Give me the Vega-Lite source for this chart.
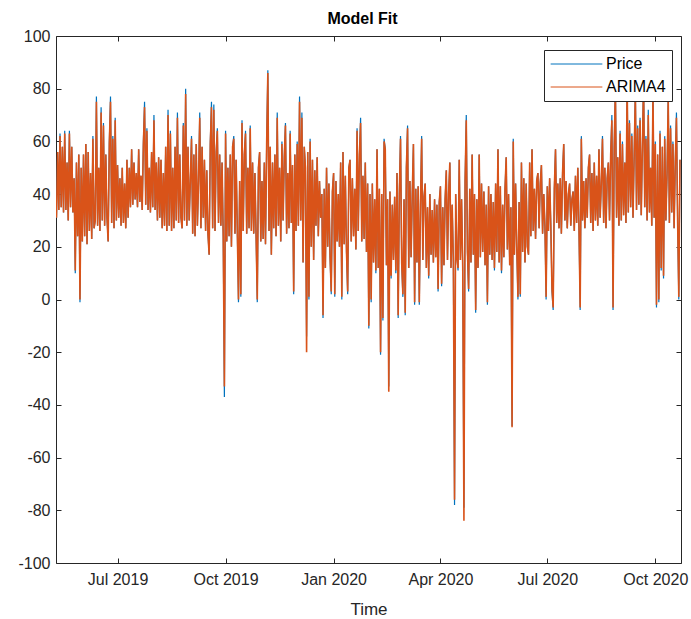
{
  "$schema": "https://vega.github.io/schema/vega-lite/v6.json",
  "width": 625,
  "height": 527,
  "autosize": {"type": "none"},
  "padding": {"left": 56, "top": 36, "right": 10, "bottom": 56},
  "background": "white",
  "title": {"text": "Model Fit", "font": "Liberation Sans", "fontSize": 16, "fontWeight": "bold", "color": "#000000", "offset": 1, "dx": -6},
  "data": {
    "format": {"parse": {"t": "date:'%Y-%m-%d'"}},
    "values": [
{"t":"2019-05-10","p":31,"a":31},{"t":"2019-05-11","p":56,"a":56},{"t":"2019-05-12","p":34,"a":34},{"t":"2019-05-13","p":63,"a":62},{"t":"2019-05-14","p":35,"a":35},{"t":"2019-05-15","p":58,"a":58},{"t":"2019-05-16","p":33,"a":33},{"t":"2019-05-17","p":64,"a":63},{"t":"2019-05-18","p":34,"a":34},{"t":"2019-05-19","p":52,"a":52},{"t":"2019-05-20","p":30,"a":30},{"t":"2019-05-21","p":64,"a":63},{"t":"2019-05-22","p":35,"a":35},{"t":"2019-05-23","p":58,"a":58},{"t":"2019-05-24","p":33,"a":33},{"t":"2019-05-25","p":46,"a":46},{"t":"2019-05-26","p":10,"a":11},{"t":"2019-05-27","p":52,"a":52},{"t":"2019-05-28","p":24,"a":24},{"t":"2019-05-29","p":55,"a":55},{"t":"2019-05-30","p":-1,"a":0},{"t":"2019-05-31","p":50,"a":50},
{"t":"2019-06-01","p":22,"a":22},{"t":"2019-06-02","p":55,"a":55},{"t":"2019-06-03","p":24,"a":24},{"t":"2019-06-04","p":59,"a":59},{"t":"2019-06-05","p":21,"a":21},{"t":"2019-06-06","p":56,"a":56},{"t":"2019-06-07","p":26,"a":26},{"t":"2019-06-08","p":48,"a":48},{"t":"2019-06-09","p":23,"a":23},{"t":"2019-06-10","p":62,"a":61},{"t":"2019-06-11","p":27,"a":27},{"t":"2019-06-12","p":30,"a":30},{"t":"2019-06-13","p":77,"a":75},{"t":"2019-06-14","p":28,"a":28},{"t":"2019-06-15","p":50,"a":50},{"t":"2019-06-16","p":26,"a":26},{"t":"2019-06-17","p":73,"a":71},{"t":"2019-06-18","p":30,"a":30},{"t":"2019-06-19","p":67,"a":66},{"t":"2019-06-20","p":28,"a":28},{"t":"2019-06-21","p":55,"a":55},{"t":"2019-06-22","p":31,"a":31},{"t":"2019-06-23","p":22,"a":22},{"t":"2019-06-24","p":60,"a":59},{"t":"2019-06-25","p":77,"a":75},{"t":"2019-06-26","p":29,"a":29},{"t":"2019-06-27","p":62,"a":61},{"t":"2019-06-28","p":27,"a":27},{"t":"2019-06-29","p":69,"a":68},{"t":"2019-06-30","p":30,"a":30},
{"t":"2019-07-01","p":51,"a":51},{"t":"2019-07-02","p":31,"a":31},{"t":"2019-07-03","p":46,"a":46},{"t":"2019-07-04","p":28,"a":28},{"t":"2019-07-05","p":50,"a":50},{"t":"2019-07-06","p":29,"a":29},{"t":"2019-07-07","p":44,"a":44},{"t":"2019-07-08","p":27,"a":27},{"t":"2019-07-09","p":53,"a":53},{"t":"2019-07-10","p":31,"a":31},{"t":"2019-07-11","p":50,"a":50},{"t":"2019-07-12","p":35,"a":35},{"t":"2019-07-13","p":57,"a":57},{"t":"2019-07-14","p":36,"a":36},{"t":"2019-07-15","p":52,"a":52},{"t":"2019-07-16","p":38,"a":38},{"t":"2019-07-17","p":48,"a":48},{"t":"2019-07-18","p":35,"a":35},{"t":"2019-07-19","p":57,"a":57},{"t":"2019-07-20","p":37,"a":37},{"t":"2019-07-21","p":47,"a":47},{"t":"2019-07-22","p":34,"a":34},{"t":"2019-07-23","p":60,"a":59},{"t":"2019-07-24","p":75,"a":73},{"t":"2019-07-25","p":36,"a":36},{"t":"2019-07-26","p":65,"a":64},{"t":"2019-07-27","p":34,"a":34},{"t":"2019-07-28","p":50,"a":50},{"t":"2019-07-29","p":33,"a":33},{"t":"2019-07-30","p":56,"a":56},{"t":"2019-07-31","p":35,"a":35},
{"t":"2019-08-01","p":70,"a":68},{"t":"2019-08-02","p":34,"a":34},{"t":"2019-08-03","p":52,"a":52},{"t":"2019-08-04","p":30,"a":30},{"t":"2019-08-05","p":54,"a":54},{"t":"2019-08-06","p":31,"a":31},{"t":"2019-08-07","p":53,"a":53},{"t":"2019-08-08","p":27,"a":27},{"t":"2019-08-09","p":48,"a":48},{"t":"2019-08-10","p":28,"a":28},{"t":"2019-08-11","p":58,"a":58},{"t":"2019-08-12","p":26,"a":26},{"t":"2019-08-13","p":72,"a":70},{"t":"2019-08-14","p":28,"a":28},{"t":"2019-08-15","p":64,"a":63},{"t":"2019-08-16","p":26,"a":26},{"t":"2019-08-17","p":50,"a":50},{"t":"2019-08-18","p":27,"a":27},{"t":"2019-08-19","p":58,"a":58},{"t":"2019-08-20","p":30,"a":30},{"t":"2019-08-21","p":71,"a":69},{"t":"2019-08-22","p":29,"a":29},{"t":"2019-08-23","p":55,"a":55},{"t":"2019-08-24","p":31,"a":31},{"t":"2019-08-25","p":27,"a":27},{"t":"2019-08-26","p":67,"a":66},{"t":"2019-08-27","p":30,"a":30},{"t":"2019-08-28","p":80,"a":78},{"t":"2019-08-29","p":28,"a":28},{"t":"2019-08-30","p":58,"a":58},{"t":"2019-08-31","p":30,"a":30},
{"t":"2019-09-01","p":45,"a":45},{"t":"2019-09-02","p":62,"a":61},{"t":"2019-09-03","p":25,"a":25},{"t":"2019-09-04","p":55,"a":55},{"t":"2019-09-05","p":24,"a":24},{"t":"2019-09-06","p":59,"a":59},{"t":"2019-09-07","p":28,"a":28},{"t":"2019-09-08","p":45,"a":45},{"t":"2019-09-09","p":71,"a":69},{"t":"2019-09-10","p":27,"a":27},{"t":"2019-09-11","p":58,"a":58},{"t":"2019-09-12","p":31,"a":31},{"t":"2019-09-13","p":53,"a":53},{"t":"2019-09-14","p":26,"a":26},{"t":"2019-09-15","p":49,"a":49},{"t":"2019-09-16","p":25,"a":25},{"t":"2019-09-17","p":17,"a":17},{"t":"2019-09-18","p":60,"a":59},{"t":"2019-09-19","p":75,"a":73},{"t":"2019-09-20","p":27,"a":27},{"t":"2019-09-21","p":74,"a":72},{"t":"2019-09-22","p":26,"a":26},{"t":"2019-09-23","p":56,"a":56},{"t":"2019-09-24","p":65,"a":64},{"t":"2019-09-25","p":29,"a":29},{"t":"2019-09-26","p":55,"a":55},{"t":"2019-09-27","p":28,"a":28},{"t":"2019-09-28","p":52,"a":52},{"t":"2019-09-29","p":24,"a":24},{"t":"2019-09-30","p":-37,"a":-33},
{"t":"2019-10-01","p":64,"a":63},{"t":"2019-10-02","p":22,"a":22},{"t":"2019-10-03","p":50,"a":50},{"t":"2019-10-04","p":24,"a":24},{"t":"2019-10-05","p":55,"a":55},{"t":"2019-10-06","p":20,"a":20},{"t":"2019-10-07","p":58,"a":58},{"t":"2019-10-08","p":62,"a":61},{"t":"2019-10-09","p":25,"a":25},{"t":"2019-10-10","p":53,"a":53},{"t":"2019-10-11","p":26,"a":26},{"t":"2019-10-12","p":-1,"a":0},{"t":"2019-10-13","p":45,"a":45},{"t":"2019-10-14","p":1,"a":2},{"t":"2019-10-15","p":68,"a":67},{"t":"2019-10-16","p":26,"a":26},{"t":"2019-10-17","p":55,"a":55},{"t":"2019-10-18","p":64,"a":63},{"t":"2019-10-19","p":25,"a":25},{"t":"2019-10-20","p":50,"a":50},{"t":"2019-10-21","p":27,"a":27},{"t":"2019-10-22","p":66,"a":65},{"t":"2019-10-23","p":26,"a":26},{"t":"2019-10-24","p":52,"a":52},{"t":"2019-10-25","p":25,"a":25},{"t":"2019-10-26","p":48,"a":48},{"t":"2019-10-27","p":24,"a":24},{"t":"2019-10-28","p":-1,"a":0},{"t":"2019-10-29","p":50,"a":50},{"t":"2019-10-30","p":56,"a":56},{"t":"2019-10-31","p":22,"a":22},
{"t":"2019-11-01","p":45,"a":45},{"t":"2019-11-02","p":23,"a":23},{"t":"2019-11-03","p":52,"a":52},{"t":"2019-11-04","p":21,"a":21},{"t":"2019-11-05","p":60,"a":59},{"t":"2019-11-06","p":87,"a":86},{"t":"2019-11-07","p":26,"a":26},{"t":"2019-11-08","p":58,"a":58},{"t":"2019-11-09","p":17,"a":17},{"t":"2019-11-10","p":52,"a":52},{"t":"2019-11-11","p":27,"a":27},{"t":"2019-11-12","p":55,"a":55},{"t":"2019-11-13","p":24,"a":24},{"t":"2019-11-14","p":71,"a":69},{"t":"2019-11-15","p":28,"a":28},{"t":"2019-11-16","p":50,"a":50},{"t":"2019-11-17","p":22,"a":22},{"t":"2019-11-18","p":60,"a":59},{"t":"2019-11-19","p":30,"a":30},{"t":"2019-11-20","p":54,"a":54},{"t":"2019-11-21","p":67,"a":66},{"t":"2019-11-22","p":25,"a":25},{"t":"2019-11-23","p":48,"a":48},{"t":"2019-11-24","p":27,"a":27},{"t":"2019-11-25","p":64,"a":63},{"t":"2019-11-26","p":29,"a":29},{"t":"2019-11-27","p":51,"a":51},{"t":"2019-11-28","p":2,"a":3},{"t":"2019-11-29","p":55,"a":55},{"t":"2019-11-30","p":26,"a":26},
{"t":"2019-12-01","p":60,"a":59},{"t":"2019-12-02","p":28,"a":28},{"t":"2019-12-03","p":77,"a":75},{"t":"2019-12-04","p":30,"a":30},{"t":"2019-12-05","p":71,"a":69},{"t":"2019-12-06","p":14,"a":14},{"t":"2019-12-07","p":58,"a":58},{"t":"2019-12-08","p":50,"a":50},{"t":"2019-12-09","p":-14,"a":-20},{"t":"2019-12-10","p":56,"a":56},{"t":"2019-12-11","p":0,"a":1},{"t":"2019-12-12","p":61,"a":60},{"t":"2019-12-13","p":20,"a":20},{"t":"2019-12-14","p":53,"a":53},{"t":"2019-12-15","p":15,"a":15},{"t":"2019-12-16","p":49,"a":49},{"t":"2019-12-17","p":28,"a":28},{"t":"2019-12-18","p":54,"a":54},{"t":"2019-12-19","p":24,"a":24},{"t":"2019-12-20","p":45,"a":45},{"t":"2019-12-21","p":31,"a":31},{"t":"2019-12-22","p":40,"a":40},{"t":"2019-12-23","p":-7,"a":-6},{"t":"2019-12-24","p":42,"a":42},{"t":"2019-12-25","p":12,"a":12},{"t":"2019-12-26","p":50,"a":50},{"t":"2019-12-27","p":20,"a":20},{"t":"2019-12-28","p":44,"a":44},{"t":"2019-12-29","p":16,"a":16},{"t":"2019-12-30","p":2,"a":3},{"t":"2019-12-31","p":41,"a":41},
{"t":"2020-01-01","p":48,"a":48},{"t":"2020-01-02","p":1,"a":2},{"t":"2020-01-03","p":45,"a":45},{"t":"2020-01-04","p":22,"a":22},{"t":"2020-01-05","p":40,"a":40},{"t":"2020-01-06","p":20,"a":20},{"t":"2020-01-07","p":52,"a":52},{"t":"2020-01-08","p":0,"a":1},{"t":"2020-01-09","p":56,"a":56},{"t":"2020-01-10","p":21,"a":21},{"t":"2020-01-11","p":47,"a":47},{"t":"2020-01-12","p":18,"a":18},{"t":"2020-01-13","p":2,"a":3},{"t":"2020-01-14","p":50,"a":50},{"t":"2020-01-15","p":53,"a":53},{"t":"2020-01-16","p":22,"a":22},{"t":"2020-01-17","p":46,"a":46},{"t":"2020-01-18","p":24,"a":24},{"t":"2020-01-19","p":42,"a":42},{"t":"2020-01-20","p":19,"a":19},{"t":"2020-01-21","p":65,"a":64},{"t":"2020-01-22","p":26,"a":26},{"t":"2020-01-23","p":55,"a":55},{"t":"2020-01-24","p":69,"a":67},{"t":"2020-01-25","p":22,"a":22},{"t":"2020-01-26","p":47,"a":47},{"t":"2020-01-27","p":23,"a":23},{"t":"2020-01-28","p":52,"a":52},{"t":"2020-01-29","p":18,"a":18},{"t":"2020-01-30","p":44,"a":44},{"t":"2020-01-31","p":-11,"a":-10},
{"t":"2020-02-01","p":40,"a":40},{"t":"2020-02-02","p":-1,"a":0},{"t":"2020-02-03","p":44,"a":44},{"t":"2020-02-04","p":14,"a":14},{"t":"2020-02-05","p":38,"a":38},{"t":"2020-02-06","p":10,"a":11},{"t":"2020-02-07","p":57,"a":57},{"t":"2020-02-08","p":12,"a":12},{"t":"2020-02-09","p":42,"a":42},{"t":"2020-02-10","p":-21,"a":-20},{"t":"2020-02-11","p":40,"a":40},{"t":"2020-02-12","p":-8,"a":-7},{"t":"2020-02-13","p":61,"a":60},{"t":"2020-02-14","p":57,"a":57},{"t":"2020-02-15","p":13,"a":13},{"t":"2020-02-16","p":38,"a":38},{"t":"2020-02-17","p":-33,"a":-35},{"t":"2020-02-18","p":41,"a":41},{"t":"2020-02-19","p":8,"a":9},{"t":"2020-02-20","p":36,"a":36},{"t":"2020-02-21","p":15,"a":15},{"t":"2020-02-22","p":39,"a":39},{"t":"2020-02-23","p":10,"a":11},{"t":"2020-02-24","p":48,"a":48},{"t":"2020-02-25","p":-7,"a":-6},{"t":"2020-02-26","p":40,"a":40},{"t":"2020-02-27","p":62,"a":61},{"t":"2020-02-28","p":14,"a":14},{"t":"2020-02-29","p":1,"a":2},
{"t":"2020-03-01","p":38,"a":38},{"t":"2020-03-02","p":-6,"a":-5},{"t":"2020-03-03","p":50,"a":50},{"t":"2020-03-04","p":66,"a":65},{"t":"2020-03-05","p":12,"a":12},{"t":"2020-03-06","p":45,"a":45},{"t":"2020-03-07","p":16,"a":16},{"t":"2020-03-08","p":40,"a":40},{"t":"2020-03-09","p":59,"a":59},{"t":"2020-03-10","p":-2,"a":-1},{"t":"2020-03-11","p":42,"a":42},{"t":"2020-03-12","p":14,"a":14},{"t":"2020-03-13","p":43,"a":43},{"t":"2020-03-14","p":-2,"a":-1},{"t":"2020-03-15","p":36,"a":36},{"t":"2020-03-16","p":62,"a":61},{"t":"2020-03-17","p":15,"a":15},{"t":"2020-03-18","p":39,"a":39},{"t":"2020-03-19","p":44,"a":44},{"t":"2020-03-20","p":12,"a":12},{"t":"2020-03-21","p":35,"a":35},{"t":"2020-03-22","p":8,"a":9},{"t":"2020-03-23","p":40,"a":40},{"t":"2020-03-24","p":17,"a":17},{"t":"2020-03-25","p":34,"a":34},{"t":"2020-03-26","p":14,"a":14},{"t":"2020-03-27","p":38,"a":38},{"t":"2020-03-28","p":16,"a":16},{"t":"2020-03-29","p":36,"a":36},{"t":"2020-03-30","p":3,"a":4},{"t":"2020-03-31","p":37,"a":37},
{"t":"2020-04-01","p":43,"a":43},{"t":"2020-04-02","p":5,"a":6},{"t":"2020-04-03","p":35,"a":35},{"t":"2020-04-04","p":13,"a":13},{"t":"2020-04-05","p":38,"a":38},{"t":"2020-04-06","p":49,"a":49},{"t":"2020-04-07","p":15,"a":15},{"t":"2020-04-08","p":40,"a":40},{"t":"2020-04-09","p":52,"a":52},{"t":"2020-04-10","p":12,"a":12},{"t":"2020-04-11","p":36,"a":36},{"t":"2020-04-12","p":14,"a":14},{"t":"2020-04-13","p":-78,"a":-76},{"t":"2020-04-14","p":40,"a":40},{"t":"2020-04-15","p":16,"a":16},{"t":"2020-04-16","p":11,"a":12},{"t":"2020-04-17","p":53,"a":53},{"t":"2020-04-18","p":15,"a":15},{"t":"2020-04-19","p":38,"a":38},{"t":"2020-04-20","p":12,"a":12},{"t":"2020-04-21","p":-79,"a":-84},{"t":"2020-04-22","p":45,"a":45},{"t":"2020-04-23","p":70,"a":68},{"t":"2020-04-24","p":18,"a":18},{"t":"2020-04-25","p":3,"a":4},{"t":"2020-04-26","p":42,"a":42},{"t":"2020-04-27","p":14,"a":14},{"t":"2020-04-28","p":55,"a":55},{"t":"2020-04-29","p":17,"a":17},{"t":"2020-04-30","p":40,"a":40},
{"t":"2020-05-01","p":-5,"a":-4},{"t":"2020-05-02","p":38,"a":38},{"t":"2020-05-03","p":12,"a":12},{"t":"2020-05-04","p":55,"a":55},{"t":"2020-05-05","p":16,"a":16},{"t":"2020-05-06","p":44,"a":44},{"t":"2020-05-07","p":18,"a":18},{"t":"2020-05-08","p":41,"a":41},{"t":"2020-05-09","p":13,"a":13},{"t":"2020-05-10","p":36,"a":36},{"t":"2020-05-11","p":-2,"a":-1},{"t":"2020-05-12","p":43,"a":43},{"t":"2020-05-13","p":17,"a":17},{"t":"2020-05-14","p":40,"a":40},{"t":"2020-05-15","p":15,"a":15},{"t":"2020-05-16","p":37,"a":37},{"t":"2020-05-17","p":11,"a":12},{"t":"2020-05-18","p":44,"a":44},{"t":"2020-05-19","p":18,"a":18},{"t":"2020-05-20","p":57,"a":57},{"t":"2020-05-21","p":14,"a":14},{"t":"2020-05-22","p":43,"a":43},{"t":"2020-05-23","p":10,"a":11},{"t":"2020-05-24","p":36,"a":36},{"t":"2020-05-25","p":16,"a":16},{"t":"2020-05-26","p":42,"a":42},{"t":"2020-05-27","p":54,"a":54},{"t":"2020-05-28","p":19,"a":19},{"t":"2020-05-29","p":40,"a":40},{"t":"2020-05-30","p":13,"a":13},{"t":"2020-05-31","p":35,"a":35},
{"t":"2020-06-01","p":-48,"a":-48.5},{"t":"2020-06-02","p":61,"a":60},{"t":"2020-06-03","p":17,"a":17},{"t":"2020-06-04","p":44,"a":44},{"t":"2020-06-05","p":20,"a":20},{"t":"2020-06-06","p":0,"a":1},{"t":"2020-06-07","p":37,"a":37},{"t":"2020-06-08","p":1,"a":2},{"t":"2020-06-09","p":52,"a":52},{"t":"2020-06-10","p":18,"a":18},{"t":"2020-06-11","p":46,"a":46},{"t":"2020-06-12","p":14,"a":14},{"t":"2020-06-13","p":44,"a":44},{"t":"2020-06-14","p":20,"a":20},{"t":"2020-06-15","p":17,"a":17},{"t":"2020-06-16","p":52,"a":52},{"t":"2020-06-17","p":24,"a":24},{"t":"2020-06-18","p":57,"a":57},{"t":"2020-06-19","p":26,"a":26},{"t":"2020-06-20","p":42,"a":42},{"t":"2020-06-21","p":23,"a":23},{"t":"2020-06-22","p":45,"a":45},{"t":"2020-06-23","p":48,"a":48},{"t":"2020-06-24","p":27,"a":27},{"t":"2020-06-25","p":44,"a":44},{"t":"2020-06-26","p":51,"a":51},{"t":"2020-06-27","p":25,"a":25},{"t":"2020-06-28","p":40,"a":40},{"t":"2020-06-29","p":28,"a":28},{"t":"2020-06-30","p":0,"a":1},
{"t":"2020-07-01","p":43,"a":43},{"t":"2020-07-02","p":26,"a":26},{"t":"2020-07-03","p":46,"a":46},{"t":"2020-07-04","p":28,"a":28},{"t":"2020-07-05","p":3,"a":4},{"t":"2020-07-06","p":-4,"a":-3},{"t":"2020-07-07","p":42,"a":42},{"t":"2020-07-08","p":57,"a":57},{"t":"2020-07-09","p":29,"a":29},{"t":"2020-07-10","p":44,"a":44},{"t":"2020-07-11","p":27,"a":27},{"t":"2020-07-12","p":46,"a":46},{"t":"2020-07-13","p":25,"a":25},{"t":"2020-07-14","p":48,"a":48},{"t":"2020-07-15","p":59,"a":59},{"t":"2020-07-16","p":30,"a":30},{"t":"2020-07-17","p":45,"a":45},{"t":"2020-07-18","p":27,"a":27},{"t":"2020-07-19","p":40,"a":40},{"t":"2020-07-20","p":44,"a":44},{"t":"2020-07-21","p":28,"a":28},{"t":"2020-07-22","p":38,"a":38},{"t":"2020-07-23","p":41,"a":41},{"t":"2020-07-24","p":26,"a":26},{"t":"2020-07-25","p":47,"a":47},{"t":"2020-07-26","p":29,"a":29},{"t":"2020-07-27","p":50,"a":50},{"t":"2020-07-28","p":27,"a":27},{"t":"2020-07-29","p":-4,"a":-3},{"t":"2020-07-30","p":62,"a":61},{"t":"2020-07-31","p":30,"a":30},
{"t":"2020-08-01","p":45,"a":45},{"t":"2020-08-02","p":27,"a":27},{"t":"2020-08-03","p":46,"a":46},{"t":"2020-08-04","p":31,"a":31},{"t":"2020-08-05","p":50,"a":50},{"t":"2020-08-06","p":55,"a":55},{"t":"2020-08-07","p":29,"a":29},{"t":"2020-08-08","p":48,"a":48},{"t":"2020-08-09","p":26,"a":26},{"t":"2020-08-10","p":52,"a":52},{"t":"2020-08-11","p":30,"a":30},{"t":"2020-08-12","p":47,"a":47},{"t":"2020-08-13","p":28,"a":28},{"t":"2020-08-14","p":57,"a":57},{"t":"2020-08-15","p":31,"a":31},{"t":"2020-08-16","p":44,"a":44},{"t":"2020-08-17","p":62,"a":61},{"t":"2020-08-18","p":29,"a":29},{"t":"2020-08-19","p":50,"a":50},{"t":"2020-08-20","p":27,"a":27},{"t":"2020-08-21","p":46,"a":46},{"t":"2020-08-22","p":52,"a":52},{"t":"2020-08-23","p":30,"a":30},{"t":"2020-08-24","p":55,"a":55},{"t":"2020-08-25","p":70,"a":68},{"t":"2020-08-26","p":-4,"a":-3},{"t":"2020-08-27","p":58,"a":58},{"t":"2020-08-28","p":82,"a":80},{"t":"2020-08-29","p":31,"a":31},{"t":"2020-08-30","p":54,"a":54},{"t":"2020-08-31","p":28,"a":28},
{"t":"2020-09-01","p":64,"a":63},{"t":"2020-09-02","p":30,"a":30},{"t":"2020-09-03","p":60,"a":59},{"t":"2020-09-04","p":32,"a":32},{"t":"2020-09-05","p":52,"a":52},{"t":"2020-09-06","p":29,"a":29},{"t":"2020-09-07","p":85,"a":83},{"t":"2020-09-08","p":33,"a":33},{"t":"2020-09-09","p":68,"a":67},{"t":"2020-09-10","p":35,"a":35},{"t":"2020-09-11","p":63,"a":62},{"t":"2020-09-12","p":31,"a":31},{"t":"2020-09-13","p":55,"a":55},{"t":"2020-09-14","p":80,"a":78},{"t":"2020-09-15","p":34,"a":34},{"t":"2020-09-16","p":66,"a":65},{"t":"2020-09-17","p":36,"a":36},{"t":"2020-09-18","p":69,"a":68},{"t":"2020-09-19","p":32,"a":32},{"t":"2020-09-20","p":58,"a":58},{"t":"2020-09-21","p":84,"a":82},{"t":"2020-09-22","p":35,"a":35},{"t":"2020-09-23","p":62,"a":61},{"t":"2020-09-24","p":30,"a":30},{"t":"2020-09-25","p":72,"a":70},{"t":"2020-09-26","p":33,"a":33},{"t":"2020-09-27","p":50,"a":50},{"t":"2020-09-28","p":28,"a":28},{"t":"2020-09-29","p":80,"a":78},{"t":"2020-09-30","p":31,"a":31},
{"t":"2020-10-01","p":60,"a":59},{"t":"2020-10-02","p":-3,"a":-2},{"t":"2020-10-03","p":55,"a":55},{"t":"2020-10-04","p":-1,"a":0},{"t":"2020-10-05","p":64,"a":63},{"t":"2020-10-06","p":11,"a":12},{"t":"2020-10-07","p":58,"a":58},{"t":"2020-10-08","p":8,"a":9},{"t":"2020-10-09","p":62,"a":61},{"t":"2020-10-10","p":30,"a":30},{"t":"2020-10-11","p":48,"a":48},{"t":"2020-10-12","p":78,"a":76},{"t":"2020-10-13","p":29,"a":29},{"t":"2020-10-14","p":66,"a":65},{"t":"2020-10-15","p":33,"a":33},{"t":"2020-10-16","p":60,"a":59},{"t":"2020-10-17","p":27,"a":27},{"t":"2020-10-18","p":52,"a":52},{"t":"2020-10-19","p":71,"a":69},{"t":"2020-10-20","p":30,"a":30},{"t":"2020-10-21","p":0,"a":1},{"t":"2020-10-22","p":53,"a":53}
    ]
  },
  "layer": [
    {
      "mark": {"type": "line", "strokeWidth": 1.2, "clip": true},
      "encoding": {
        "x": {
          "field": "t", "type": "temporal",
          "scale": {"domain": [{"year": 2019, "month": "May", "date": 9, "hours": 14}, {"year": 2020, "month": "Oct", "date": 22, "hours": 21}]},
          "axis": {
            "orient": "bottom", "title": "Time", "format": "%b %Y", "labelPadding": 13, "titlePadding": 14,
            "values": [{"year": 2019, "month": "Jul", "date": 1}, {"year": 2019, "month": "Oct", "date": 1}, {"year": 2020, "month": "Jan", "date": 1}, {"year": 2020, "month": "Apr", "date": 1}, {"year": 2020, "month": "Jul", "date": 1}, {"year": 2020, "month": "Oct", "date": 1}]
          }
        },
        "y": {
          "field": "p", "type": "quantitative",
          "scale": {"domain": [-100, 100], "nice": false},
          "axis": {"orient": "left", "title": null, "labelPadding": 11, "values": [-100, -80, -60, -40, -20, 0, 20, 40, 60, 80, 100], "labelExpr": "'' + datum.value"}
        },
        "color": {
          "datum": "Price",
          "scale": {"domain": ["Price", "ARIMA4"], "range": ["#0072BD", "#D95319"]},
          "legend": {
            "title": null, "orient": "none", "legendX": 488, "legendY": 14,
            "symbolType": "stroke", "symbolSize": 2673, "symbolStrokeWidth": 1,
            "clipHeight": 16, "rowPadding": 7, "padding": 6, "labelOffset": 3,
            "labelFont": "Liberation Sans", "labelFontSize": 16, "labelColor": "#000000",
            "fillColor": "white", "strokeColor": "#262626"
          }
        }
      }
    },
    {
      "mark": {"type": "line", "strokeWidth": 1.6, "clip": true},
      "encoding": {
        "x": {
          "field": "t", "type": "temporal",
          "axis": {
            "orient": "top", "title": null, "labels": false,
            "values": [{"year": 2019, "month": "Jul", "date": 1}, {"year": 2019, "month": "Oct", "date": 1}, {"year": 2020, "month": "Jan", "date": 1}, {"year": 2020, "month": "Apr", "date": 1}, {"year": 2020, "month": "Jul", "date": 1}, {"year": 2020, "month": "Oct", "date": 1}]
          }
        },
        "y": {
          "field": "a", "type": "quantitative",
          "axis": {"orient": "right", "title": null, "labels": false, "values": [-100, -80, -60, -40, -20, 0, 20, 40, 60, 80, 100]}
        },
        "color": {"datum": "ARIMA4"}
      }
    }
  ],
  "config": {
    "view": {"stroke": null},
    "axis": {
      "grid": false, "domainColor": "#262626", "domainWidth": 1, "tickColor": "#262626", "tickWidth": 1, "tickSize": -5,
      "labelColor": "#262626", "labelFont": "Liberation Sans", "labelFontSize": 16,
      "titleColor": "#262626", "titleFont": "Liberation Sans", "titleFontSize": 17, "titleFontWeight": "normal"
    }
  }
}
